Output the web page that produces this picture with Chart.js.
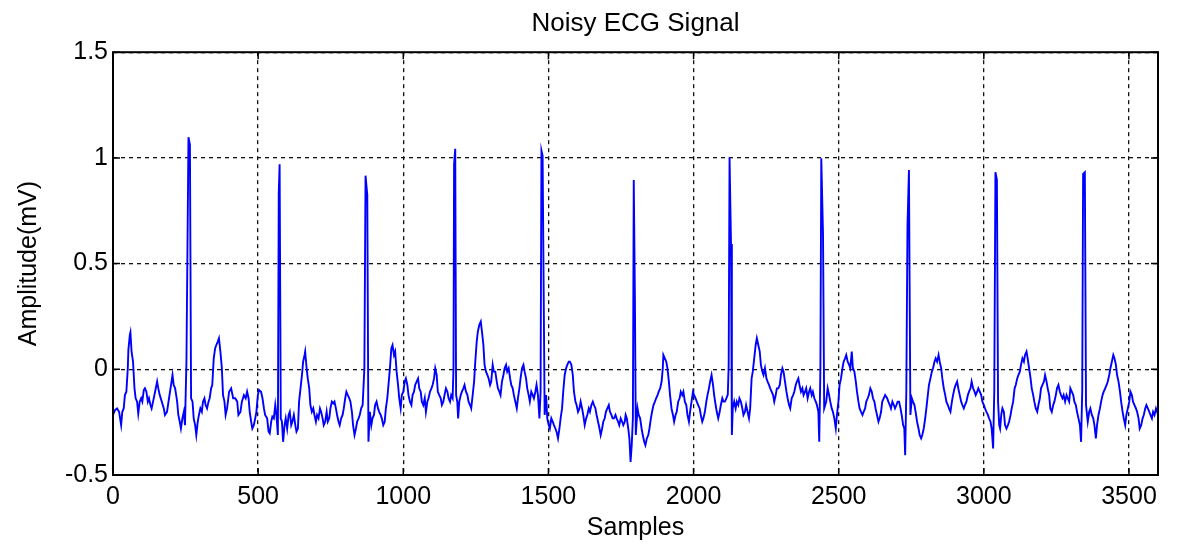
<!DOCTYPE html>
<html>
<head>
<meta charset="utf-8">
<title>Noisy ECG Signal</title>
<script src="https://cdn.jsdelivr.net/npm/chart.js@4.4.1/dist/chart.umd.min.js"></script>
<style>
    html, body { margin: 0; padding: 0; background: #fff; }
    #wrap { width: 1178px; height: 548px; }
</style>
</head>
<body>
<div id="wrap"><canvas id="ecgChart" width="1178" height="548"></canvas></div>
<script>
// Values (sample index -> amplitude in mV)
const sampleIdx = [
    0, 7, 14, 21, 28, 32, 37, 41, 46, 51,
    53, 58, 60, 64, 69, 74, 78, 83, 87, 92,
    97, 101, 106, 110, 115, 120, 124, 129, 133, 138,
    145, 152, 156, 161, 168, 175, 179, 186, 193, 200,
    205, 209, 214, 221, 225, 230, 234, 239, 244, 248,
    253, 260, 265, 269, 274, 278, 283, 287, 292, 296,
    301, 306, 310, 315, 319, 324, 329, 333, 338, 342,
    347, 352, 356, 361, 365, 370, 375, 379, 384, 388,
    393, 400, 407, 414,
    421, 428, 432, 439, 444, 451, 457, 462, 467, 471,
    476, 480, 485, 490, 494, 499, 503, 510, 515, 520,
    524, 531, 536, 540, 545, 549, 554, 559, 563, 568,
    571, 574, 578, 582, 586, 591, 595, 600, 605, 609,
    614, 618, 623, 628, 632, 637, 641, 646, 651, 655,
    660, 662, 667, 671, 676, 680, 685, 690, 694, 699,
    703, 708, 713, 717, 722, 726, 731, 736, 740, 745,
    749, 754, 759, 763, 768, 772, 777, 781, 786, 791,
    795, 800, 804, 809, 814, 818, 823, 827, 832, 837,
    841, 846, 850, 855, 860, 866, 870, 876, 880,
    885, 890, 894, 899, 903, 908, 913, 917, 922, 926,
    931, 936, 940, 945, 949, 954, 959, 963, 968, 972,
    977, 982, 986, 991, 995, 1000, 1005, 1009, 1014, 1018,
    1023, 1028, 1032, 1037, 1041, 1046, 1051, 1055, 1060, 1064,
    1069, 1074, 1078, 1083, 1087, 1092, 1097, 1101, 1106, 1110,
    1115, 1119, 1124, 1129, 1133, 1138, 1142, 1147, 1152, 1156,
    1161, 1165, 1170, 1173, 1175, 1179, 1182, 1186, 1189, 1193,
    1198, 1202, 1207, 1211, 1216, 1221, 1225, 1230, 1234, 1239,
    1244, 1248, 1253, 1257, 1262, 1267, 1271, 1276, 1280, 1285,
    1290, 1294, 1299, 1303, 1308, 1312,
    1317, 1322, 1326, 1331, 1335, 1340, 1345, 1349, 1354, 1358,
    1363, 1368, 1372, 1377, 1381, 1386, 1391, 1395, 1400, 1404,
    1409, 1414, 1418, 1423, 1427, 1432, 1436, 1441, 1446, 1450,
    1455, 1459, 1464, 1469, 1473, 1476, 1480, 1487, 1492, 1496,
    1501, 1505, 1510, 1515, 1519, 1524, 1528, 1533, 1538, 1542,
    1547, 1551, 1556, 1561, 1565, 1570, 1574, 1579, 1584, 1588,
    1593, 1597, 1602, 1607, 1611, 1616, 1620, 1625, 1630, 1634,
    1639, 1643, 1648, 1653, 1657, 1662, 1666, 1671, 1676, 1680,
    1685, 1689, 1694, 1698, 1703, 1708, 1712, 1717, 1721, 1726,
    1731, 1735, 1740, 1744, 1749, 1754, 1758, 1763,
    1766, 1770, 1775, 1779, 1783, 1787, 1791, 1794, 1798, 1801,
    1807, 1811, 1816, 1821, 1825, 1830, 1834, 1839, 1844, 1848,
    1853, 1857, 1862, 1867, 1871, 1876, 1880, 1885, 1890, 1894,
    1896, 1901, 1906, 1910, 1915, 1919, 1924, 1929, 1933, 1938,
    1942, 1947, 1952, 1956, 1961, 1965, 1970, 1975, 1979, 1984,
    1988, 1993, 1998, 2002, 2007, 2011, 2016, 2021, 2025, 2030,
    2034, 2039, 2044, 2048, 2053, 2057, 2062, 2067, 2071, 2076,
    2080, 2085, 2090, 2094, 2099, 2103, 2108, 2113, 2118, 2121,
    2124, 2129, 2132, 2135, 2140, 2145, 2149, 2154, 2158, 2163,
    2168, 2172, 2177, 2181, 2186, 2191, 2195, 2200, 2204, 2209,
    2214, 2218, 2223, 2228, 2232, 2237, 2241, 2246, 2251, 2255,
    2260, 2264, 2269, 2274, 2278, 2283, 2287, 2292, 2297, 2301,
    2306, 2310, 2315, 2320, 2324, 2329, 2333, 2338, 2343, 2347,
    2352, 2356, 2361, 2365, 2370, 2375, 2379, 2384, 2388, 2393,
    2398, 2402, 2407, 2411, 2416, 2421, 2425, 2430, 2433, 2437,
    2440, 2446, 2450, 2457, 2462, 2467, 2471, 2476, 2480, 2485,
    2490, 2494, 2499, 2503, 2508, 2513, 2517, 2522, 2526, 2531,
    2536, 2540, 2545, 2549, 2554, 2559, 2563, 2568, 2572, 2577,
    2582, 2586, 2591, 2595, 2600, 2604, 2609, 2614, 2618, 2623,
    2627, 2632, 2637, 2641, 2646, 2650, 2655, 2660,
    2667, 2671, 2676, 2680, 2685, 2690, 2694, 2699, 2703, 2708,
    2713, 2717, 2722, 2726, 2729, 2733, 2737, 2742, 2747, 2752,
    2756, 2761, 2765, 2770, 2775, 2779, 2784, 2788, 2793, 2798,
    2802, 2807, 2811, 2816, 2821, 2825, 2830, 2834, 2839, 2844,
    2848, 2853, 2857, 2862, 2867, 2871, 2876, 2880, 2885, 2890,
    2894, 2899, 2903, 2908, 2912, 2917, 2922, 2926, 2931, 2935,
    2940, 2945, 2949, 2954, 2958, 2963, 2968, 2972, 2977, 2981,
    2986, 2991, 2995, 3000, 3004, 3009, 3014, 3018, 3023, 3027,
    3032, 3036, 3040, 3045, 3049, 3053, 3056, 3060, 3064, 3069,
    3073, 3078, 3083, 3087, 3092, 3096, 3101, 3106,
    3110, 3115, 3119, 3124, 3128, 3133, 3138, 3142, 3147, 3151,
    3156, 3161, 3165, 3170, 3174, 3179, 3184, 3188, 3193, 3197,
    3202, 3207, 3211, 3216, 3220, 3225, 3229, 3234, 3239, 3243,
    3248, 3252, 3257, 3262, 3266, 3271, 3275, 3280, 3285, 3289,
    3294, 3298, 3303, 3308, 3312, 3317, 3321, 3326, 3331, 3335,
    3339, 3342, 3348, 3352, 3358, 3363, 3367, 3372, 3377, 3381,
    3386, 3390, 3395, 3400, 3404, 3409, 3413, 3418, 3423, 3427,
    3432, 3436, 3441, 3446, 3450, 3455, 3459, 3464, 3469, 3473,
    3478, 3482, 3487, 3491, 3496, 3501, 3505, 3510, 3514, 3519,
    3524, 3528, 3533, 3537, 3542, 3547, 3551, 3556, 3560, 3565,
    3570, 3574, 3579, 3583, 3588, 3593, 3597, 3600
];

const amplitudeMv = [
    -0.216, -0.193, -0.185, -0.201, -0.264, -0.201, -0.185, -0.122, -0.106, 0.005,
    0.092, 0.163, 0.175, 0.084, 0.036, -0.090, -0.137, -0.153, -0.209, -0.153,
    -0.137, -0.153, -0.098, -0.090, -0.106, -0.153, -0.137, -0.169, -0.185, -0.153,
    -0.106, -0.058, -0.090, -0.122, -0.153, -0.185, -0.216, -0.201, -0.137, -0.074,
    -0.027, -0.074, -0.090, -0.153, -0.216, -0.248, -0.280, -0.232, -0.201, -0.264,
    0.036, 1.098, 1.062, -0.137, -0.153, -0.232, -0.264, -0.311, -0.248, -0.216,
    -0.185, -0.201, -0.153, -0.137, -0.169, -0.185, -0.153, -0.137, -0.090, -0.074,
    0.052, 0.100, 0.115, 0.131, 0.147, 0.084, 0.005, -0.122, -0.153, -0.216,
    -0.185, -0.106, -0.090, -0.137,
    -0.137, -0.153, -0.216, -0.201, -0.153, -0.122, -0.137, -0.106, -0.137, -0.201,
    -0.248, -0.280, -0.264, -0.232, -0.201, -0.122, -0.098, -0.106, -0.137, -0.185,
    -0.216, -0.232, -0.295, -0.303, -0.248, -0.224, -0.232, -0.169, -0.216, -0.311,
    0.833, 0.970, -0.232, -0.248, -0.343, -0.264, -0.232, -0.280, -0.216, -0.201,
    -0.264, -0.248, -0.216, -0.264, -0.295, -0.280, -0.153, -0.090, -0.027, 0.036,
    0.068, 0.084, 0.005, -0.043, -0.090, -0.169, -0.201, -0.185, -0.216, -0.248,
    -0.216, -0.232, -0.185, -0.201, -0.232, -0.264, -0.248, -0.201, -0.248, -0.232,
    -0.185, -0.153, -0.161, -0.153, -0.185, -0.216, -0.248, -0.264, -0.232, -0.216,
    -0.185, -0.137, -0.106, -0.122, -0.137, -0.153, -0.201, -0.264, -0.311, -0.280,
    -0.248, -0.232, -0.216, -0.185, -0.169, 0.005, 0.916, 0.825, -0.343,
    -0.201, -0.264, -0.232, -0.216, -0.169, -0.153, -0.185, -0.201, -0.216, -0.232,
    -0.264, -0.248, -0.185, -0.137, -0.074, 0.005, 0.100, 0.115, 0.068, 0.084,
    -0.011, -0.074, -0.137, -0.185, -0.122, -0.106, -0.058, -0.043, -0.074, -0.122,
    -0.153, -0.169, -0.122, -0.106, -0.074, -0.058, -0.043, -0.090, -0.106, -0.153,
    -0.169, -0.137, -0.201, -0.153, -0.137, -0.106, -0.090, -0.074, -0.043, 0.005,
    -0.027, -0.106, -0.122, -0.137, -0.169, -0.153, -0.122, -0.090, -0.106, -0.137,
    -0.153, -0.122, -0.137, 0.005, 0.970, 1.043, -0.122, -0.153, -0.232, -0.153,
    -0.122, -0.106, -0.090, -0.074, -0.106, -0.122, -0.153, -0.169, -0.185, -0.122,
    -0.058, 0.036, 0.131, 0.179, 0.210, 0.226, 0.179, 0.115, 0.021, -0.011,
    -0.027, -0.043, -0.074, -0.058, 0.021, -0.011,
    -0.011, -0.058, -0.090, -0.106, -0.122, -0.058, -0.027, 0.005, 0.021, -0.011,
    0.005, -0.043, -0.074, -0.090, -0.122, -0.153, -0.185, -0.137, -0.090, -0.043,
    0.005, 0.021, -0.011, -0.043, -0.090, -0.122, -0.153, -0.106, -0.122, -0.137,
    -0.106, -0.074, -0.122, -0.232, -0.106, 1.035, 1.010, -0.216, -0.122, -0.232,
    -0.264, -0.280, -0.232, -0.248, -0.264, -0.280, -0.295, -0.327, -0.280, -0.232,
    -0.185, -0.106, -0.027, 0.005, 0.021, 0.036, 0.036, 0.021, -0.027, -0.106,
    -0.153, -0.169, -0.201, -0.185, -0.153, -0.185, -0.216, -0.264, -0.232, -0.216,
    -0.185, -0.201, -0.169, -0.153, -0.169, -0.185, -0.216, -0.248, -0.280, -0.311,
    -0.280, -0.248, -0.232, -0.201, -0.185, -0.169, -0.201, -0.216, -0.232, -0.232,
    -0.216, -0.232, -0.248, -0.264, -0.232, -0.248, -0.264, -0.248,
    -0.216, -0.232, -0.280, -0.327, -0.438, -0.359, -0.232, 0.896, 0.330, -0.311,
    -0.185, -0.216, -0.232, -0.280, -0.311, -0.343, -0.359, -0.327, -0.311, -0.280,
    -0.232, -0.201, -0.169, -0.153, -0.137, -0.122, -0.106, -0.090, -0.058, 0.005,
    0.068, 0.052, 0.036, 0.005, -0.058, -0.122, -0.185, -0.216, -0.248, -0.216,
    -0.201, -0.153, -0.137, -0.106, -0.122, -0.106, -0.153, -0.169, -0.216, -0.248,
    -0.201, -0.153, -0.106, -0.122, -0.137, -0.153, -0.169, -0.185, -0.216, -0.248,
    -0.232, -0.201, -0.153, -0.122, -0.090, -0.058, -0.027, -0.074, -0.122, -0.169,
    -0.201, -0.232, -0.201, -0.169, -0.137, -0.153, -0.153, -0.137, -0.120, 0.020,
    1.003, 0.593, -0.311, -0.185, -0.153, -0.185, -0.153, -0.169, -0.137, -0.153,
    -0.185, -0.216, -0.201, -0.169, -0.201, -0.232, -0.185, -0.043, -0.011, 0.052,
    0.115, 0.147, 0.115, 0.084, 0.021, -0.011, -0.027, 0.005, -0.043, -0.058,
    -0.074, -0.090, -0.106, -0.122, -0.153, -0.122, -0.090, -0.090, -0.074, -0.027,
    0.005, -0.011, -0.058, -0.106, -0.137, -0.169, -0.185, -0.137, -0.122, -0.106,
    -0.074, -0.058, -0.043, -0.074, -0.106, -0.090, -0.122, -0.106, -0.090, -0.137,
    -0.106, -0.090, -0.122, -0.106, -0.137, -0.153, -0.169, -0.201, -0.343, 0.010,
    0.998, 0.640, -0.185, -0.153, -0.090, -0.122, -0.153, -0.185, -0.201, -0.232,
    -0.280, -0.216, -0.153, -0.074, -0.043, 0.005, 0.036, 0.052, 0.068, 0.036,
    0.021, 0.005, 0.084, 0.005, -0.011, -0.058, -0.106, -0.153, -0.185, -0.201,
    -0.216, -0.201, -0.185, -0.153, -0.137, -0.122, -0.090, -0.106, -0.137, -0.153,
    -0.185, -0.216, -0.248, -0.232, -0.201, -0.153, -0.137, -0.122,
    -0.137, -0.153, -0.169, -0.185, -0.153, -0.169, -0.185, -0.169, -0.153, -0.153,
    -0.185, -0.216, -0.264, -0.280, -0.406, -0.100, 0.680, 0.943, -0.216, -0.137,
    -0.153, -0.169, -0.201, -0.248, -0.280, -0.311, -0.327, -0.311, -0.280, -0.232,
    -0.185, -0.122, -0.074, -0.043, -0.011, 0.005, 0.036, 0.052, 0.036, 0.068,
    0.036, 0.005, -0.043, -0.090, -0.122, -0.153, -0.169, -0.185, -0.201, -0.153,
    -0.122, -0.090, -0.074, -0.058, -0.090, -0.122, -0.153, -0.169, -0.185, -0.169,
    -0.153, -0.122, -0.106, -0.090, -0.058, -0.090, -0.106, -0.122, -0.106, -0.090,
    -0.106, -0.122, -0.153, -0.169, -0.185, -0.201, -0.216, -0.232, -0.248, -0.280,
    -0.374, -0.100, 0.932, 0.896, -0.153, -0.264, -0.280, -0.216, -0.185, -0.201,
    -0.264, -0.280, -0.264, -0.248, -0.216, -0.185, -0.153, -0.090,
    -0.074, -0.043, -0.027, -0.011, 0.021, 0.052, 0.036, 0.068, 0.084, 0.052,
    0.005, -0.043, -0.090, -0.122, -0.153, -0.185, -0.201, -0.169, -0.137, -0.090,
    -0.074, -0.058, -0.027, -0.058, -0.090, -0.122, -0.185, -0.201, -0.169, -0.153,
    -0.122, -0.090, -0.074, -0.106, -0.122, -0.137, -0.122, -0.153, -0.122, -0.137,
    -0.153, -0.090, -0.106, -0.122, -0.153, -0.169, -0.201, -0.232, -0.264, -0.343,
    -0.100, 0.924, 0.932, -0.169, -0.248, -0.201, -0.185, -0.216, -0.232, -0.264,
    -0.327, -0.264, -0.216, -0.185, -0.153, -0.122, -0.106, -0.090, -0.074, -0.058,
    -0.027, 0.005, 0.036, 0.068, 0.052, 0.021, -0.027, -0.058, -0.106, -0.153,
    -0.201, -0.232, -0.264, -0.216, -0.185, -0.153, -0.106, -0.122, -0.153, -0.169,
    -0.185, -0.201, -0.232, -0.280, -0.264, -0.232, -0.216, -0.185, -0.169, -0.185,
    -0.201, -0.216, -0.232, -0.201, -0.216, -0.185, -0.201, -0.216
];

// Axis ticks
const xTickValues = [0, 500, 1000, 1500, 2000, 2500, 3000, 3500];
const xTickLabels = ["0", "500", "1000", "1500", "2000", "2500", "3000", "3500"];
const yTickValues = [-0.5, 0, 0.5, 1, 1.5];
const yTickLabels = ["-0.5", "0", "0.5", "1", "1.5"];

if (sampleIdx.length !== amplitudeMv.length) {
    console.error("length mismatch", sampleIdx.length, amplitudeMv.length);
}

const fontFamily = "'Liberation Sans', Arial, Helvetica, sans-serif";

function labelFor(values, labels, v) {
    const i = values.findIndex((t) => Math.abs(t - v) < 1e-9);
    return i >= 0 ? labels[i] : "";
}

// Box around the plot with inward tick marks, as in the source figure
const axesBox = {
    id: "axesBox",
    afterDraw(chart) {
        const { ctx, chartArea: a, scales } = chart;
        const tick = 7;
        ctx.save();
        ctx.strokeStyle = "#000";
        ctx.lineWidth = 1.5;
        ctx.beginPath();
        scales.x.ticks.forEach((t) => {
            const px = scales.x.getPixelForValue(t.value);
            ctx.moveTo(px, a.bottom);
            ctx.lineTo(px, a.bottom - tick);
            ctx.moveTo(px, a.top);
            ctx.lineTo(px, a.top + tick);
        });
        scales.y.ticks.forEach((t) => {
            const py = scales.y.getPixelForValue(t.value);
            ctx.moveTo(a.left, py);
            ctx.lineTo(a.left + tick, py);
            ctx.moveTo(a.right, py);
            ctx.lineTo(a.right - tick, py);
        });
        ctx.stroke();
        ctx.lineWidth = 2;
        ctx.strokeRect(a.left, a.top, a.right - a.left, a.bottom - a.top);
        ctx.restore();
    },
};

const ctx = document.getElementById("ecgChart").getContext("2d");
new Chart(ctx, {
    type: "line",
    data: {
        datasets: [
            {
                data: sampleIdx.map((s, i) => ({ x: s, y: amplitudeMv[i] })),
                borderColor: "#0000ff",
                borderWidth: 1.9,
                pointRadius: 0,
                tension: 0,
                fill: false,
            },
        ],
    },
    options: {
        responsive: false,
        animation: false,
        layout: {
            padding: { left: 0, right: 20, top: 0, bottom: 0 },
        },
        plugins: {
            legend: { display: false },
            tooltip: { enabled: false },
            title: {
                display: true,
                fullSize: false,
                text: "Noisy ECG Signal",
                color: "#000",
                font: { family: fontFamily, size: 26, weight: "normal" },
                padding: { top: 8, bottom: 13 },
            },
        },
        scales: {
            x: {
                type: "linear",
                min: 0,
                max: 3600,
                afterBuildTicks: (scale) => {
                    scale.ticks = xTickValues.map((v) => ({ value: v }));
                },
                afterFit: (scale) => {
                    scale.height = 73;
                },
                ticks: {
                    color: "#000",
                    padding: 7,
                    maxRotation: 0,
                    font: { family: fontFamily, size: 25 },
                    callback: (v) => labelFor(xTickValues, xTickLabels, v),
                },
                grid: {
                    color: "#111",
                    lineWidth: 1.3,
                    drawTicks: false,
                    borderDash: [4, 4],
                },
                border: { display: false, dash: [4, 4] },
                title: {
                    display: true,
                    text: "Samples",
                    color: "#000",
                    font: { family: fontFamily, size: 25 },
                    padding: { top: 0, bottom: 5 },
                },
            },
            y: {
                type: "linear",
                min: -0.5,
                max: 1.5,
                afterBuildTicks: (scale) => {
                    scale.ticks = yTickValues.map((v) => ({ value: v }));
                },
                afterFit: (scale) => {
                    scale.width = 113;
                },
                ticks: {
                    color: "#000",
                    padding: 5,
                    font: { family: fontFamily, size: 25 },
                    callback: (v) => labelFor(yTickValues, yTickLabels, v),
                },
                grid: {
                    color: "#111",
                    lineWidth: 1.3,
                    drawTicks: false,
                    borderDash: [4, 4],
                },
                border: { display: false, dash: [4, 4] },
                title: {
                    display: true,
                    text: "Amplitude(mV)",
                    color: "#000",
                    font: { family: fontFamily, size: 25 },
                    padding: { top: 14, bottom: 0 },
                },
            },
        },
    },
    plugins: [axesBox],
});
</script>
</body>
</html>
